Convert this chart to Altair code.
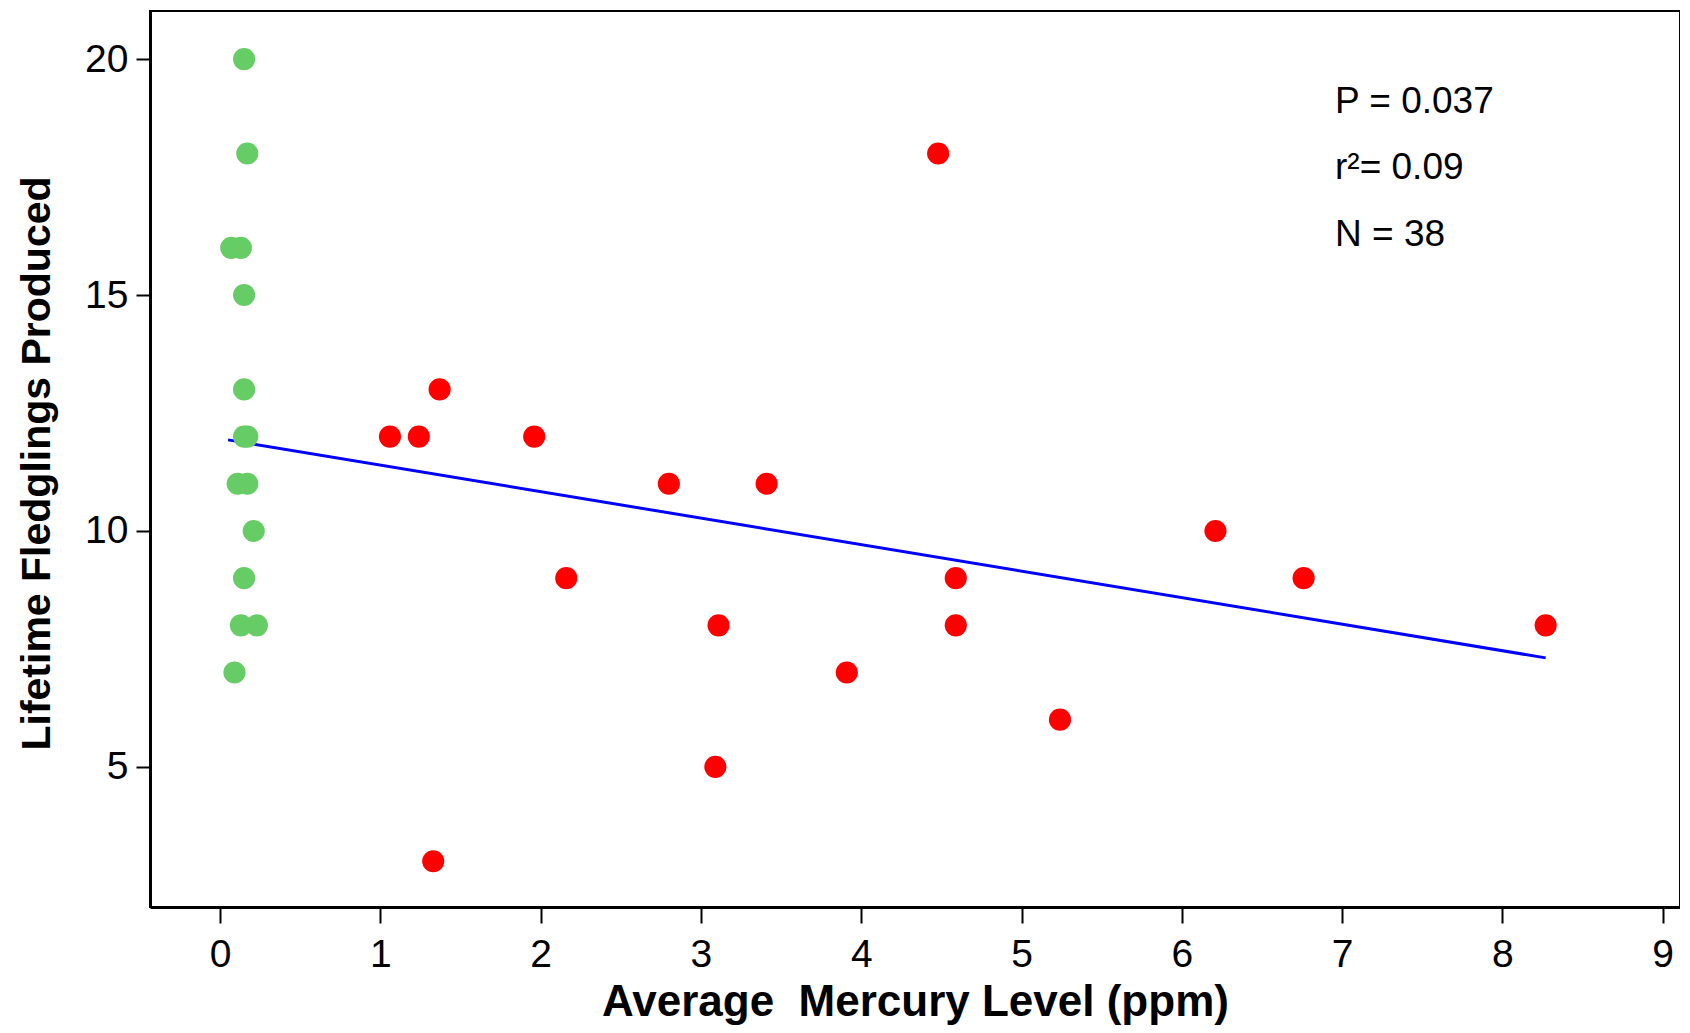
import altair as alt
import pandas as pd

# High-mercury group (red)
red_x = [1.06, 1.24, 1.37, 1.96, 2.16, 2.80, 3.11, 3.09, 3.41, 3.91, 4.48, 4.59, 4.59, 5.24, 6.21, 6.76, 8.27, 1.33]
red_y = [12, 12, 13, 12, 9, 11, 8, 5, 11, 7, 18, 9, 8, 6, 10, 9, 8, 3]

# Low-mercury group (green)
green_x = [0.15, 0.17, 0.07, 0.13, 0.15, 0.15, 0.15, 0.17, 0.11, 0.17, 0.21, 0.15, 0.13, 0.23, 0.09]
green_y = [20, 18, 16, 16, 15, 13, 12, 12, 11, 11, 10, 9, 8, 8, 7]

# Regression line end points
line_x = [0.05, 8.27]
line_y = [11.93, 7.31]

notes = ["P = 0.037", "r\u00b2= 0.09", "N = 38"]
x_ticks = [0, 1, 2, 3, 4, 5, 6, 7, 8, 9]
y_ticks = [5, 10, 15, 20]

pts = pd.DataFrame({
    "x": red_x + green_x,
    "y": red_y + green_y,
    "group": ["high"] * len(red_x) + ["low"] * len(green_x),
})
line_df = pd.DataFrame({"x": line_x, "y": line_y})

FONT = "Liberation Sans"

xscale = alt.Scale(domain=[-0.437, 9.108], nice=False, zero=False)
yscale = alt.Scale(domain=[2.03, 21.02], nice=False, zero=False)

xaxis = alt.Axis(
    values=x_ticks, grid=False, format="d",
    title="Average\u00a0 Mercury Level (ppm)",
    domainColor="black", domainWidth=3,
    tickColor="black", tickWidth=2, tickSize=16,
    labelFont=FONT, labelFontSize=39, labelColor="black", labelPadding=12,
    titleFont=FONT, titleFontSize=44, titleFontWeight="bold", titleColor="black",
    titleY=108, titleBaseline="alphabetic",
)
yaxis = alt.Axis(
    values=y_ticks, grid=False, format="d",
    title="Lifetime Fledglings Produced",
    domainColor="black", domainWidth=3,
    tickColor="black", tickWidth=2, tickSize=14,
    labelFont=FONT, labelFontSize=39, labelColor="black", labelPadding=8,
    titleFont=FONT, titleFontSize=41, titleFontWeight="bold", titleColor="black",
    titleX=-101, titleY=452, titleBaseline="alphabetic", titleAngle=270,
)

points = alt.Chart(pts).mark_circle(size=490, opacity=1).encode(
    x=alt.X("x:Q", scale=xscale, axis=xaxis),
    y=alt.Y("y:Q", scale=yscale, axis=yaxis),
    color=alt.Color("group:N",
                    scale=alt.Scale(domain=["high", "low"], range=["#FF0000", "#66CC66"]),
                    legend=None),
)

line = alt.Chart(line_df).mark_line(color="#0000FF", strokeWidth=3).encode(
    x=alt.X("x:Q", scale=xscale),
    y=alt.Y("y:Q", scale=yscale),
)

layers = [line, points]
note_y = [102, 168, 235]
for txt, yy in zip(notes, note_y):
    layers.append(
        alt.Chart(pd.DataFrame({"t": [txt]})).mark_text(
            align="left", baseline="alphabetic", font=FONT, fontSize=37, color="black"
        ).encode(x=alt.value(1185), y=alt.value(yy), text="t:N")
    )

chart = alt.layer(*layers).properties(
    width=1530, height=896,
    padding={"left": 142, "top": 3, "right": 0, "bottom": 118},
    autosize=alt.AutoSizeParams(type="none"),
    background="white",
).configure_view(stroke="black", strokeWidth=2)

chart.save("out.html", embed_options={"renderer": "svg", "actions": False})
